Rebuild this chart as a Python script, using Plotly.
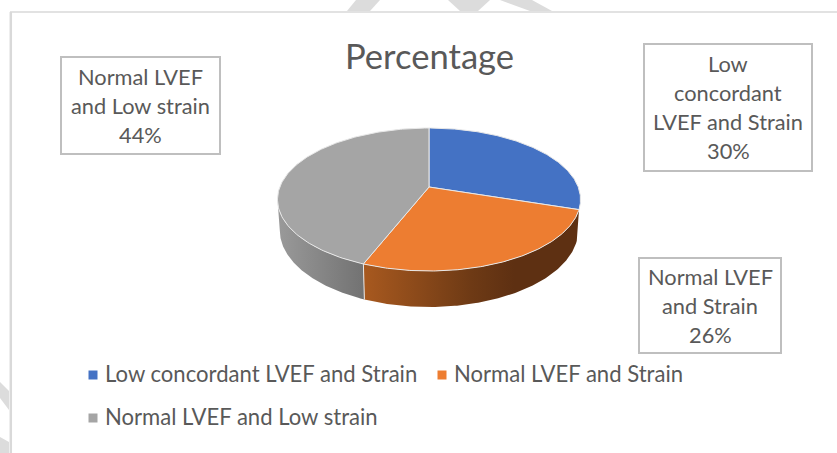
import numpy as np
import plotly.graph_objects as go

# ---- data ----
categories = ["Low concordant LVEF and Strain", "Normal LVEF and Strain", "Normal LVEF and Low strain"]
percentages = [30, 26, 44]
title_text = "Percentage"
label_lines = [["Low", "concordant", "LVEF and Strain"],
               ["Normal LVEF", "and Strain"],
               ["Normal LVEF", "and Low strain"]]

# ---- style ----
TOP_COLORS = ["#4472C4", "#ED7D31", "#A5A5A5"]
SIDE_GRADIENTS = {
    1: [[0, "#A8591F"], [0.5, "#6E3A15"], [0.7, "#5E3012"], [1, "#5E3012"]],
    2: [[0, "#9A9A9A"], [1, "#727272"]],
}
TEXT = "#595959"
FONT = "Lato, Carlito, Calibri, sans-serif"
FS = 21.8
LEGEND_FS = 22.1
W, H = 837, 453
CX, CY = 429, 187        # apex of the pie on the page
A, B, K = 149.2, 69.3, 0.175  # perspective ellipse of the top face
DEPTH = 29.7
BOT_SCALE = 0.985
BOXES = [(644, 44, 812, 171, 29), (639, 258, 781, 353, 29), (61, 57, 220, 154, 29)]
LEGEND_POS = [(93, 375), (442, 375), (93, 418)]
LEGEND_GAP = 10
LEGEND_TEXT_DY = -1.5
WATERMARK = [
    [(347, 11), (356, 0), (380, 0), (370, 11)],
    [(448, 0), (460, 11), (478, 11), (490, 0)],
    [(500, 0), (532, 0), (552, 11), (530, 11)],
    [(0, 382), (9, 391), (9, 410), (0, 398)],
    [(0, 437), (9, 442), (9, 453), (0, 453)],
]


def top_xy(theta):
    u, v = np.sin(theta), np.cos(theta)
    w = 1 + K * v
    return CX + A * u / w, CY - B * v / w


def bottom_xy(theta):
    u, v = np.sin(theta), np.cos(theta)
    w = 1 + K * v
    return CX + BOT_SCALE * A * u / w, CY - B * v / w + DEPTH / w


fig = go.Figure()
edges = np.cumsum([0] + percentages) / sum(percentages) * 2 * np.pi

# side walls (only the visible, front-facing part)
for i in (2, 1):
    lo, hi = edges[i], edges[i + 1]
    lo2, hi2 = max(lo, np.pi / 2 + 0.17), min(hi, 3 * np.pi / 2 - 0.17)
    t = np.linspace(lo2, hi2, 120)
    tx, ty = top_xy(t)
    bx, by = bottom_xy(t[::-1])
    fig.add_trace(go.Scatter(
        x=np.r_[tx, bx, tx[0]], y=np.r_[ty, by, ty[0]], mode="lines", fill="toself",
        line=dict(color="rgba(0,0,0,0)", width=0),
        fillgradient=dict(type="horizontal", colorscale=SIDE_GRADIENTS[i]),
        hoverinfo="skip", showlegend=False))

# top face slices
for i in range(len(percentages)):
    t = np.linspace(edges[i], edges[i + 1], 160)
    x, y = top_xy(t)
    fig.add_trace(go.Scatter(
        x=np.r_[CX, x, CX], y=np.r_[CY, y, CY], mode="lines", fill="toself",
        fillcolor=TOP_COLORS[i], line=dict(color="#E8E8E8", width=1),
        name=categories[i], hoverinfo="name", showlegend=False))

# wall seam between orange and gray
sx0, sy0 = top_xy(edges[2]); sx1, sy1 = bottom_xy(edges[2])
fig.add_trace(go.Scatter(x=[sx0, sx1], y=[sy0, sy1], mode="lines",
                         line=dict(color="#E8E8E8", width=1), hoverinfo="skip", showlegend=False))

annotations = []
# legend rows
for i, c in enumerate(categories):
    px, py = LEGEND_POS[i]
    fig.add_trace(go.Scatter(
        x=[px], y=[py], mode="markers",
        marker=dict(symbol="square", size=9, color=TOP_COLORS[i]),
        hoverinfo="skip", showlegend=False))
    annotations.append(dict(x=px + LEGEND_GAP, y=py + LEGEND_TEXT_DY, text=c, showarrow=False,
                            font=dict(family=FONT, size=LEGEND_FS, color=TEXT), xanchor="left", yanchor="middle"))

shapes = [
    dict(type="line", x0=10.8, x1=10.8, y0=12, y1=H, line=dict(color="#D9D9D9", width=2.5)),
    dict(type="line", x0=10, x1=W, y0=12, y1=12, line=dict(color="#D9D9D9", width=1.5)),
]
for poly in WATERMARK:
    path = "M" + " L".join(f"{px},{py}" for px, py in poly) + " Z"
    shapes.append(dict(type="path", path=path, fillcolor="#DCDCDC", line=dict(width=0), layer="below"))
for (x0, y0, x1, y1, step), lines, pct in zip(BOXES, label_lines, percentages):
    shapes.append(dict(type="rect", x0=x0, x1=x1, y0=y0, y1=y1, fillcolor="white",
                       line=dict(color="#BFBFBF", width=2), layer="below"))
    all_lines = lines + [f"{pct}%"]
    yy = (y0 + y1) / 2 - step * (len(all_lines) - 1) / 2
    for j, s in enumerate(all_lines):
        annotations.append(dict(x=(x0 + x1) / 2, y=yy + step * j - 0.5, text=s, showarrow=False,
                                font=dict(family=FONT, size=FS, color=TEXT), xanchor="center", yanchor="middle"))
annotations.append(dict(x=429, y=55, text=title_text, showarrow=False,
                        font=dict(family=FONT, size=34.6, color=TEXT), xanchor="center", yanchor="middle"))

fig.update_layout(
    width=W, height=H, margin=dict(l=0, r=0, t=0, b=0),
    paper_bgcolor="white", plot_bgcolor="white",
    xaxis=dict(range=[0, W], visible=False, fixedrange=True),
    yaxis=dict(range=[H, 0], visible=False, fixedrange=True),
    shapes=shapes, annotations=annotations, showlegend=False,
)
fig.write_html("out.html", config=dict(displayModeBar=False),
               post_script="document.body.style.margin='0';document.documentElement.style.overflow='hidden';")
